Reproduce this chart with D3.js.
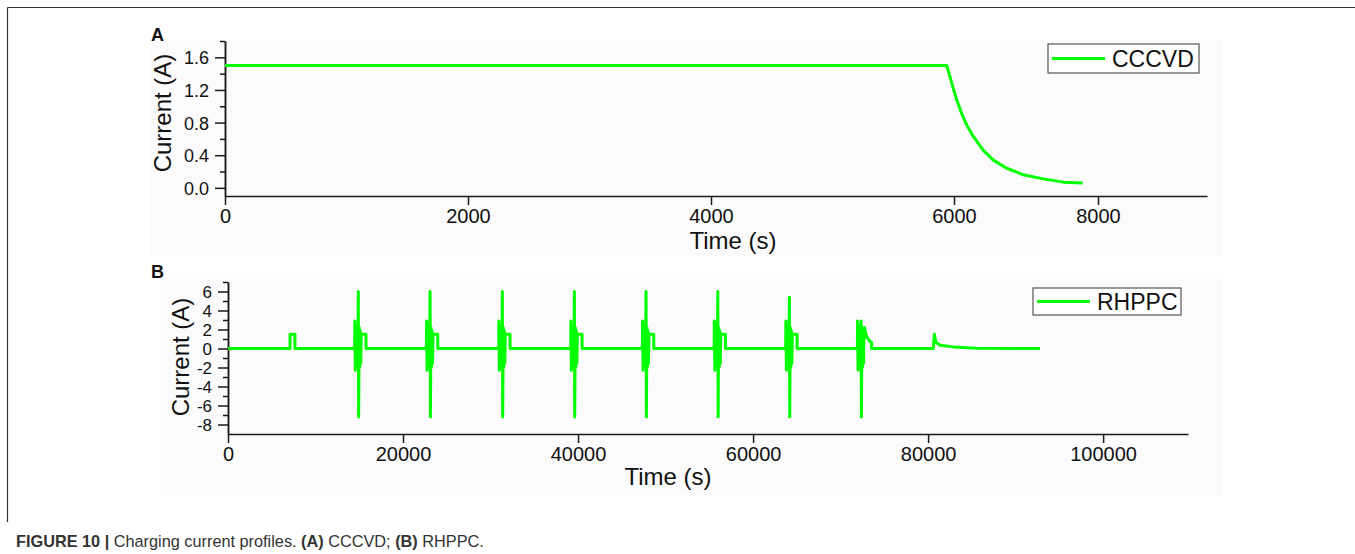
<!DOCTYPE html>
<html>
<head>
<meta charset="utf-8">
<script src="https://cdn.jsdelivr.net/npm/d3@7"></script>
<style>
  body { margin: 0; background: #fff; }
  svg text { font-family: "Liberation Sans", Arial, sans-serif; fill: #111; }
  .axis path, .axis line { stroke: #1a1a1a; stroke-width: 1.5; }
</style>
</head>
<body>
<svg id="fig" width="1355" height="554"></svg>
<script>
// ---- panel A : CCCVD ----
const cccvdTime = [0, 5940, 5967, 5994, 6037, 6107, 6176, 6268, 6407, 6546, 6732, 6963, 7240, 7518, 7787];
const cccvdCurrent = [1.5, 1.5, 1.36, 1.22, 1.08, 0.91, 0.77, 0.63, 0.46, 0.34, 0.24, 0.16, 0.11, 0.07, 0.06];
const aTicksX = [0, 2000, 4000, 6000, 8000];
const aTicksY = [0.0, 0.4, 0.8, 1.2, 1.6];
const aMinorY = [0.2, 0.6, 1.0, 1.4, 1.8];

// ---- panel B : RHPPC ----
const firstPulseTime = [0, 7090, 7090, 7650, 7650];
const firstPulseCurrent = [0, 0, 1.5, 1.5, 0];
// centre time of each big pulse and its peaks
const spikeTime = [14890, 23090, 31350, 39580, 47770, 55970, 64150, 72340];
const spikeHigh = [6.0, 6.0, 6.0, 6.0, 6.0, 6.0, 5.4, 2.9];
const spikeLow = [-7.2, -7.2, -7.2, -7.2, -7.2, -7.2, -7.2, -7.2];
// oscillating burst before the spike (offset s from spike, current A)
const burstOffset = [-420, -400, -340, -280, -220, -160, -100, -40];
const burstCurrent = [0, 2.9, -2.3, 2.4, -1.9, 1.8, -1.5, 1.2];
// oscillation after the spike
const afterOffset = [100, 160, 220, 280, 340];
const afterCurrent = [2.2, -2.0, 1.9, -1.6, 1.5];
// 1.5 A step that closes pulses 1-7
const stepOffset = [390, 880, 880];
const stepCurrent = [1.5, 1.5, 0];
// decaying tail of the last pulse
const lastTailOffset = [390, 600, 1000, 1200, 1200];
const lastTailCurrent = [2.2, 1.3, 0.75, 0.65, 0];
// final CV charge
const finalTime = [80600, 80720, 80870, 81370, 82890, 85560, 92800];
const finalCurrent = [0, 1.5, 0.69, 0.35, 0.17, 0.03, 0];
const bTicksX = [0, 20000, 40000, 60000, 80000, 100000];
const bTicksY = [-8, -6, -4, -2, 0, 2, 4, 6];
const bMinorY = [-7, -5, -3, -1, 1, 3, 5, 7];

const green = '#00ff00';
const svg = d3.select('#fig');

// figure frame
svg.append('line').attr('x1', 7.5).attr('y1', 7.5).attr('x2', 1355).attr('y2', 7.5)
  .attr('stroke', '#333').attr('stroke-width', 1.2);
svg.append('line').attr('x1', 7.5).attr('y1', 7.5).attr('x2', 7.5).attr('y2', 522)
  .attr('stroke', '#333').attr('stroke-width', 1.2);

// very light backgrounds of the plots
svg.append('rect').attr('x', 150).attr('y', 40).attr('width', 1072).attr('height', 216).attr('fill', '#fbfbfb');
svg.append('rect').attr('x', 160).attr('y', 279).attr('width', 1062).attr('height', 216).attr('fill', '#fbfbfb');

const plain = d => String(d);

function drawPanel(o) {
  const g = svg.append('g');
  const x = o.x, y = o.y;

  g.append('g').attr('class', 'axis')
    .attr('transform', 'translate(0,' + y.range()[0] + ')')
    .call(d3.axisBottom(x).tickValues(o.ticksX).tickSize(9).tickSizeOuter(0).tickPadding(4).tickFormat(o.fmtX))
    .call(s => s.selectAll('text').attr('font-size', 20).attr('fill', '#111'));

  g.append('g').attr('class', 'axis')
    .attr('transform', 'translate(' + x.range()[0] + ',0)')
    .call(d3.axisLeft(y).tickValues(o.minorY).tickSize(5).tickSizeOuter(0).tickFormat(''));
  g.append('g').attr('class', 'axis')
    .attr('transform', 'translate(' + x.range()[0] + ',0)')
    .call(d3.axisLeft(y).tickValues(o.ticksY).tickSize(10).tickSizeOuter(0).tickPadding(6).tickFormat(o.fmtY))
    .call(s => s.selectAll('text').attr('font-size', o.yFont).attr('fill', '#111').attr('dy', '0.36em'));

  const line = d3.line().x(d => x(d[0])).y(d => y(d[1]));
  o.series.forEach(pts => {
    g.append('path').datum(pts).attr('d', line)
      .attr('fill', 'none').attr('stroke', green).attr('stroke-width', 3)
      .attr('stroke-linejoin', 'round');
  });

  g.append('text').attr('x', o.labelX).attr('y', o.labelY)
    .attr('font-size', 18).attr('font-weight', 'bold').attr('fill', '#000').text(o.label);
  g.append('text').attr('x', o.titleX).attr('y', o.titleY).attr('text-anchor', 'middle')
    .attr('font-size', 24).text('Time (s)');
  g.append('text').attr('transform', 'translate(' + o.yTitleX + ',' + o.yTitleY + ') rotate(-90)')
    .attr('text-anchor', 'middle').attr('font-size', 24).text('Current (A)');

  const L = o.legend;
  g.append('rect').attr('x', L.x).attr('y', L.y).attr('width', L.w).attr('height', L.h)
    .attr('fill', '#fff').attr('stroke', '#555').attr('stroke-width', 1.2);
  g.append('line').attr('x1', L.x + 4).attr('x2', L.x + 57).attr('y1', L.y + L.h / 2).attr('y2', L.y + L.h / 2)
    .attr('stroke', green).attr('stroke-width', 3);
  g.append('text').attr('x', L.x + 64).attr('y', L.y + L.h / 2 + 8.5)
    .attr('font-size', 23).text(L.text);
}

// panel A
const xA = d3.scaleLinear().domain([0, 6000, 9514]).range([225, 954, 1207]);
const yA = d3.scaleLinear().domain([-0.1, 1.8]).range([196, 41]);
drawPanel({
  x: xA, y: yA, ticksX: aTicksX, ticksY: aTicksY, minorY: aMinorY, yFont: 18,
  fmtX: plain, fmtY: d => d.toFixed(1),
  series: [cccvdTime.map((t, i) => [t, cccvdCurrent[i]])],
  label: 'A', labelX: 151, labelY: 41,
  titleX: 733, titleY: 249, yTitleX: 171, yTitleY: 113,
  legend: { x: 1048, y: 44, w: 151, h: 29, text: 'CCCVD' }
});

// panel B
const rhppc = firstPulseTime.map((t, i) => [t, firstPulseCurrent[i]]);
spikeTime.forEach((t0, k) => {
  burstOffset.forEach((dt, i) => rhppc.push([t0 + dt, burstCurrent[i]]));
  rhppc.push([t0, spikeHigh[k]]);
  rhppc.push([t0 + 40, spikeLow[k]]);
  afterOffset.forEach((dt, i) => rhppc.push([t0 + dt, afterCurrent[i]]));
  if (k < spikeTime.length - 1) {
    stepOffset.forEach((dt, i) => rhppc.push([t0 + dt, stepCurrent[i]]));
  } else {
    lastTailOffset.forEach((dt, i) => rhppc.push([t0 + dt, lastTailCurrent[i]]));
  }
});
finalTime.forEach((t, i) => rhppc.push([t, finalCurrent[i]]));

const xB = d3.scaleLinear().domain([0, 109700]).range([228, 1188]);
const yB = d3.scaleLinear().domain([-9, 7]).range([434, 282]);
drawPanel({
  x: xB, y: yB, ticksX: bTicksX, ticksY: bTicksY, minorY: bMinorY, yFont: 17,
  fmtX: plain, fmtY: plain,
  series: [rhppc],
  label: 'B', labelX: 151, labelY: 278,
  titleX: 668, titleY: 485, yTitleX: 189, yTitleY: 357,
  legend: { x: 1033, y: 288, w: 148, h: 27, text: 'RHPPC' }
});

// caption
const cap = svg.append('text').attr('x', 16).attr('y', 547).attr('font-size', 16.3).style('fill', '#333');
cap.append('tspan').attr('font-weight', 'bold').text('FIGURE 10 | ');
cap.append('tspan').text('Charging current profiles. ');
cap.append('tspan').attr('font-weight', 'bold').text('(A)');
cap.append('tspan').text(' CCCVD; ');
cap.append('tspan').attr('font-weight', 'bold').text('(B)');
cap.append('tspan').text(' RHPPC.');
</script>
</body>
</html>
